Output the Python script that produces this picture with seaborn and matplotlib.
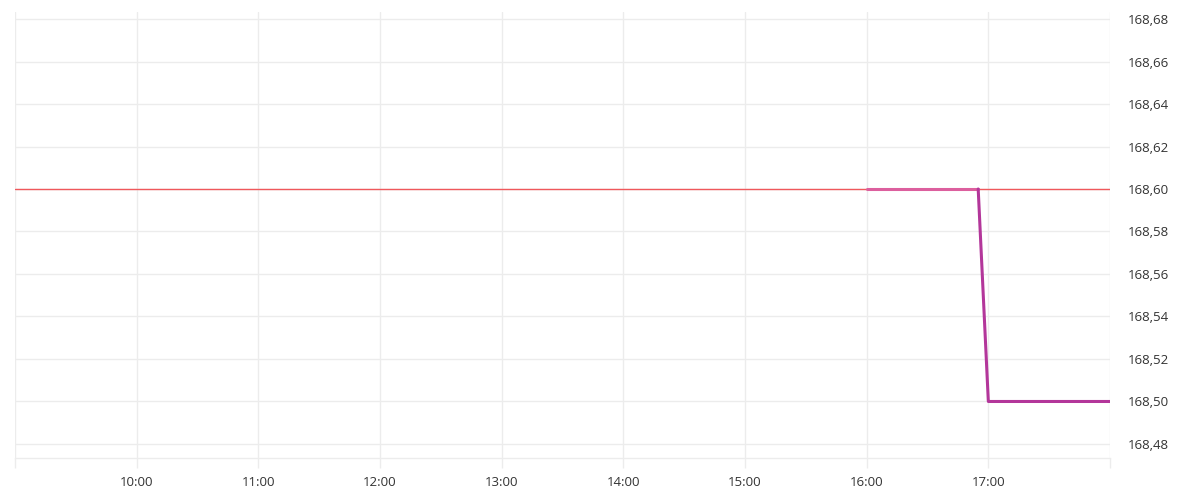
import matplotlib
matplotlib.use("Agg")
import matplotlib.pyplot as plt
import matplotlib.dates as mdates
from matplotlib.ticker import FuncFormatter, FixedLocator
import seaborn as sns
import pandas as pd

# ---- data ----
times = ["2024-01-02 16:00", "2024-01-02 16:55", "2024-01-02 16:55", "2024-01-02 17:00", "2024-01-02 18:00"]
prices = [168.60, 168.60, 168.60, 168.50, 168.50]
segment = ["a", "a", "b", "b", "b"]
prev_close = 168.60
x_start = "2024-01-02 09:00"
x_end = "2024-01-02 18:00"
y_ticks = [168.48, 168.50, 168.52, 168.54, 168.56, 168.58, 168.60, 168.62, 168.64, 168.66, 168.68]
y_limits = (168.4734, 168.6833)

df = pd.DataFrame({"time": pd.to_datetime(times), "price": prices, "seg": segment})

sns.set_theme(style="white")
plt.rcParams["font.family"] = ["Open Sans", "DejaVu Sans"]

fig = plt.figure(figsize=(12, 5), dpi=100)
ax = fig.add_axes([15 / 1200, 1 - 458 / 500, (1110 - 15) / 1200, (458 - 12) / 500])

grid_c = "#ececec"
ax.axhline(prev_close, color="#f0585c", lw=1.0, zorder=2)
sns.lineplot(data=df, x="time", y="price", hue="seg", palette={"a": "#dc5f9e", "b": "#b3369a"},
             lw=2.2, legend=False, ax=ax, zorder=3, estimator=None, sort=False)

ax.set_xlim(pd.Timestamp(x_start), pd.Timestamp(x_end))
ax.set_ylim(*y_limits)

hours = pd.date_range(x_start, x_end, freq="h")
ax.xaxis.set_major_locator(FixedLocator(mdates.date2num(hours)))
def xfmt(v, pos):
    d = mdates.num2date(v)
    if d.hour in (9, 18):
        return ""
    return d.strftime("%H:%M")
ax.xaxis.set_major_formatter(FuncFormatter(xfmt))

ax.yaxis.tick_right()
ax.set_yticks(y_ticks)
ax.yaxis.set_major_formatter(FuncFormatter(lambda v, p: f"{v:.2f}".replace(".", ",")))

ax.grid(True, color=grid_c, lw=1.0)
ax.set_axisbelow(True)
for s in ["top", "left", "right"]:
    ax.spines[s].set_visible(False)
ax.spines["bottom"].set_color(grid_c)
ax.spines["bottom"].set_linewidth(1.0)

ax.tick_params(axis="x", length=10 * 0.72, width=1.0, color=grid_c, direction="out",
               pad=6, labelsize=9.5, labelcolor="#333333", bottom=True)
ax.tick_params(axis="y", length=0, pad=13, labelsize=9.5, labelcolor="#333333", right=True, left=False)
ax.set_xlabel("")
ax.set_ylabel("")

fig.savefig("out.png", dpi=100, facecolor="white")
